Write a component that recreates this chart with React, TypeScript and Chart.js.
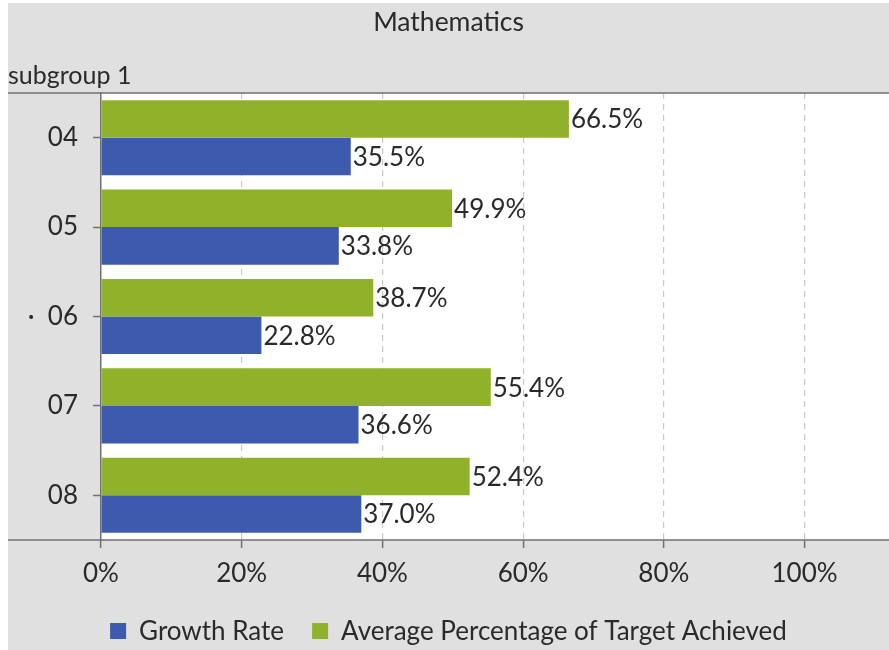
import React, { useEffect, useRef } from "react";
import { Chart, registerables } from "chart.js";

Chart.register(...registerables);

const categories = ["04", "05", "·  06", "07", "08"];
const growthRate = [35.5, 33.8, 22.8, 36.6, 37.0];
const avgTarget = [66.5, 49.9, 38.7, 55.4, 52.4];
const xTickValues = [0, 20, 40, 60, 80, 100];
const chartTitle = "Mathematics";
const subgroupLabel = "subgroup 1";

const FONT = "Lato, 'Noto Sans', sans-serif";
const TEXT = "#2a2a2a";
const AXIS = "#707070";
const FS = 26;

const decorPlugin = {
  id: "decor",
  beforeDraw(chart: any) {
    const { ctx, chartArea, width, height } = chart;
    ctx.save();
    ctx.fillStyle = "#e0e0e0";
    ctx.fillRect(0, 0, width, height);
    ctx.fillStyle = "#ffffff";
    ctx.fillRect(chartArea.left, chartArea.top, chartArea.right - chartArea.left, chartArea.bottom - chartArea.top);
    ctx.fillStyle = TEXT;
    ctx.font = `26.5px ${FONT}`;
    ctx.textAlign = "center";
    ctx.textBaseline = "middle";
    ctx.fillText(chartTitle, width / 2, 19);
    ctx.textAlign = "left";
    ctx.font = `25px ${FONT}`;
    ctx.fillText(subgroupLabel, 0, 73);
    ctx.restore();
  },
  afterDraw(chart: any) {
    const { ctx, chartArea, width } = chart;
    ctx.save();
    ctx.strokeStyle = AXIS;
    ctx.lineWidth = 1.5;
    ctx.beginPath();
    ctx.moveTo(0, chartArea.top);
    ctx.lineTo(width, chartArea.top);
    ctx.moveTo(0, chartArea.bottom);
    ctx.lineTo(width, chartArea.bottom);
    ctx.stroke();
    // data labels
    ctx.fillStyle = TEXT;
    ctx.font = `${FS}px ${FONT}`;
    ctx.textAlign = "left";
    ctx.textBaseline = "middle";
    chart.data.datasets.forEach((ds: any, di: number) => {
      const meta = chart.getDatasetMeta(di);
      meta.data.forEach((bar: any, i: number) => {
        const v = ds.data[i];
        ctx.fillText(v.toFixed(1) + "%", bar.x + 2, bar.y + 1);
      });
    });
    // custom legend (Growth Rate first)
    const items = chart.data.datasets
      .map((ds: any) => ({ label: ds.label, color: ds.backgroundColor }))
      .reverse();
    const box = 16;
    const gapText = 13;
    const gapItem = 28;
    ctx.font = `${FS}px ${FONT}`;
    const widths = items.map((it: any) => box + gapText + ctx.measureText(it.label).width);
    const total = widths.reduce((a: number, b: number) => a + b, 0) + gapItem * (items.length - 1);
    let x = width / 2 - total / 2;
    const cy = 628;
    items.forEach((it: any, i: number) => {
      ctx.fillStyle = it.color;
      ctx.fillRect(x, cy - box / 2, box, box);
      ctx.fillStyle = TEXT;
      ctx.fillText(it.label, x + box + gapText, cy + 1);
      x += widths[i] + gapItem;
    });
    ctx.restore();
  },
};

export default function App() {
  const ref = useRef<HTMLCanvasElement>(null);
  useEffect(() => {
    if (!ref.current) return;
    const chart = new Chart(ref.current, {
      type: "bar",
      data: {
        labels: categories,
        datasets: [
          {
            label: "Average Percentage of Target Achieved",
            data: avgTarget,
            backgroundColor: "#8fb22a",
            barPercentage: 1,
            categoryPercentage: 0.84,
          },
          {
            label: "Growth Rate",
            data: growthRate,
            backgroundColor: "#3d5aae",
            barPercentage: 1,
            categoryPercentage: 0.84,
          },
        ],
      },
      options: {
        indexAxis: "y",
        animation: false,
        responsive: false,
        layout: { padding: { top: 90, left: 0, right: 0, bottom: 38 } },
        scales: {
          x: {
            min: 0,
            max: 112,
            afterBuildTicks: (scale: any) => {
              scale.ticks = xTickValues.map((v) => ({ value: v }));
            },
            afterFit: (scale: any) => {
              scale.height = 72;
            },
            ticks: {
              callback: (v: any) => v + "%",
              color: TEXT,
              font: { family: FONT, size: FS },
              padding: 10,
              maxRotation: 0,
            },
            grid: {
              color: (c: any) => (c.tick && c.tick.value === 0 ? "rgba(0,0,0,0)" : "#c8c8c8"),
              lineWidth: 1.2,
              tickLength: 8,
              tickColor: AXIS,
              tickWidth: 1.5,
            },
            border: { display: false, dash: [6, 5] },
          },
          y: {
            afterFit: (scale: any) => {
              scale.width = 93;
            },
            ticks: {
              color: TEXT,
              font: { family: FONT, size: FS },
              padding: 15,
            },
            grid: {
              drawOnChartArea: false,
              offset: false,
              tickLength: 8,
              tickColor: AXIS,
              tickWidth: 1.5,
            },
            border: { display: true, color: AXIS, width: 1.5 },
          },
        },
        plugins: {
          legend: { display: false },
          tooltip: { enabled: false },
          title: { display: false },
        },
      },
      plugins: [decorPlugin],
    } as any);
    return () => chart.destroy();
  }, []);
  return (
    <div style={{ position: "absolute", left: 8, top: 3, width: 881, height: 647 }}>
      <canvas ref={ref} width={881} height={647} style={{ display: "block" }} />
    </div>
  );
}
